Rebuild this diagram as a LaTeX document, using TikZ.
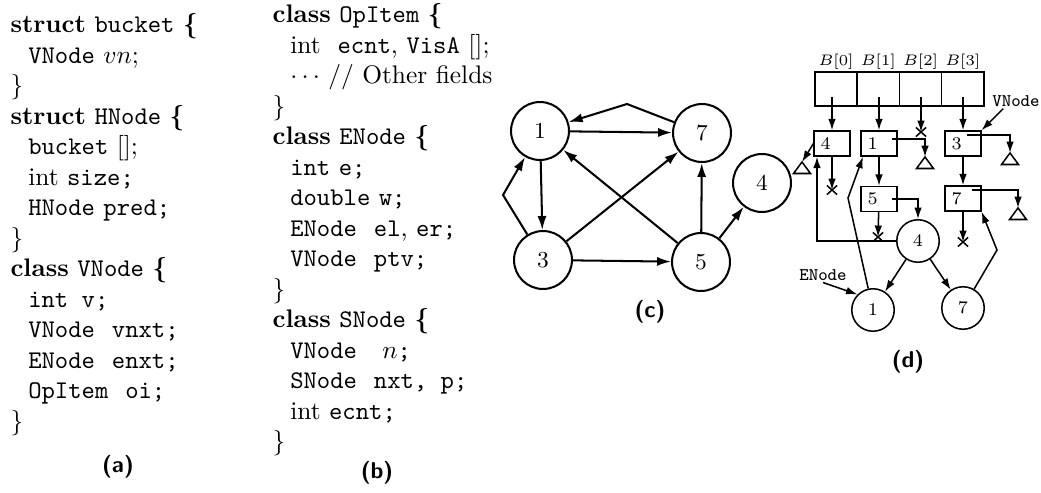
\documentclass[tikz,border=0pt]{standalone}
\usetikzlibrary{arrows.meta,shapes.misc}
\newcommand{\codeind}{\hspace*{0.7em}}

\begin{document}
\begin{tikzpicture}[x=0.3934pt,y=-0.3934pt,
    >={Latex[length=5.5pt,width=3.6pt]},
    code/.style={align=left,inner sep=0pt,anchor=north west},
    caption/.style={font=\small\sffamily\bfseries},
    vert/.style={circle,draw,thick,minimum size=22.8pt,inner sep=0pt,font=\small},
    dvert/.style={circle,draw,minimum size=16.7pt,inner sep=0pt,font=\scriptsize},
    cell/.style={draw,minimum width=16.6pt,minimum height=13.4pt,inner sep=0pt},
    box/.style={draw,text width=9pt,align=left,inner xsep=2.5pt,inner ysep=0pt,minimum height=9.8pt,font=\scriptsize},
    blabel/.style={font=\fontsize{6}{7}\selectfont,inner sep=0.5pt},
    tlabel/.style={font=\scriptsize\ttfamily,inner sep=0.5pt},
    nilx/.style={cross out,draw,inner sep=0pt,minimum width=3.4pt,minimum height=3pt}]
  \useasboundingbox (0,0) rectangle (1041,492);

  % (a)
  \node[code] (codeA) at (10,13) {%
    \textbf{struct} \texttt{bucket} \textbf{\{}\\
    \codeind\texttt{VNode} $vn$;\\
    \}\\
    \textbf{struct} \texttt{HNode} \textbf{\{}\\
    \codeind\texttt{bucket} [];\\
    \codeind int \texttt{size;}\\
    \codeind\texttt{HNode} \texttt{pred;}\\
    \}\\
    \textbf{class} \texttt{VNode} \textbf{\{}\\
    \codeind\texttt{int v;}\\
    \codeind\texttt{VNode}\ \ \texttt{vnxt;}\\
    \codeind\texttt{ENode}\ \ \texttt{enxt;}\\
    \codeind\texttt{OpItem}\ \ \texttt{oi;}\\
    \}};
  \node[caption] (capA) at (118,467) {(a)};

  % (b)
  \node[code] (codeB) at (272,3) {%
    \textbf{class} \texttt{OpItem} \textbf{\{}\\
    \codeind int\ \ \texttt{ecnt}, \texttt{VisA} [];\\
    \codeind$\cdots$ // Other fields\\
    \}\\
    \textbf{class} \texttt{ENode} \textbf{\{}\\
    \codeind\texttt{int} \texttt{e;}\\
    \codeind\texttt{double} \texttt{w;}\\
    \codeind\texttt{ENode}\ \ \texttt{el}, \texttt{er;}\\
    \codeind\texttt{VNode}\ \ \texttt{ptv;}\\
    \}\\
    \textbf{class} \texttt{SNode} \textbf{\{}\\
    \codeind\texttt{VNode}\ \ \ $n$\texttt{;}\\
    \codeind\texttt{SNode}\ \ \texttt{nxt, p;}\\
    \codeind int \texttt{ecnt;}\\
    \}};
  \node[caption] (capB) at (377,473) {(b)};

  % (c)
  \node[vert] (n1) at (540,131) {1};
  \node[vert] (n7) at (702,133) {7};
  \node[vert] (n4) at (762,183) {4};
  \node[vert] (n3) at (543,260) {3};
  \node[vert] (n5) at (701,262) {5};
  \coordinate (k71) at (627,104);
  \coordinate (k31) at (503,195);
  \begin{scope}[thick]
    \draw[->] (n1) -- (n7);
    \draw[->] (n7) -- (k71) -- (n1);
    \draw[->] (n1) -- (n3);
    \draw[->] (n3) -- (k31) -- (n1);
    \draw[->] (n3) -- (n7);
    \draw[->] (n3) -- (n5);
    \draw[->] (n5) -- (n1);
    \draw[->] (n5) -- (n7);
    \draw[->] (n5) -- (n4);
  \end{scope}
  \node[caption] (capC) at (650,312) {(c)};

  % (d)
  \begin{scope}[semithick,>={Latex[length=4.5pt,width=3pt]}]
    \foreach \i in {0,...,3}
      \node[cell,label={[blabel]above:$B[\i]$}] (cell\i) at ({836+42.25*\i},89) {};
    \node[box] (b4) at (832,143.5) {4};
    \node[box] (b1) at (879,143.5) {1};
    \node[box] (b3) at (963,143.5) {3};
    \node[box] (b5) at (879,199) {5};
    \node[box] (b7) at (963,198.5) {7};
    \node[dvert] (e4) at (918,241) {4};
    \node[dvert] (e1) at (873,310) {1};
    \node[dvert] (e7) at (963,308) {7};
    \node[nilx] (x2) at (921,132) {};
    \node[nilx] (x4) at (832,190) {};
    \node[nilx] (x5) at (878,237) {};
    \node[nilx] (x7) at (963,242) {};
    \coordinate (t4) at (802,162);
    \coordinate (t1) at (925,157);
    \coordinate (t3) at (1010,153);
    \coordinate (t7) at (1018,208);
    \foreach \t in {t4,t1,t3,t7}
      \draw (\t) -- ++(-8.5,11.5) -- ++(17,0) -- cycle;

    \draw[->] (b4.north |- cell0.center) ++(0,8) -- (b4);
    \draw[->] (b1.north |- cell1.center) ++(0,8) -- (b1);
    \draw[->] (x2 |- cell2.center) ++(0,8) -- (x2.center);
    \draw[->] (b3.north |- cell3.center) ++(0,8) -- (b3);

    \draw[->] (b4) -- (x4.center);
    \draw[->] (b4.west) -- (t4);
    \draw[->] (b1.center) ++(13,-4.5) -| (t1);
    \draw[->] (b1) -- (b5);
    \draw[->] (b5.center) ++(13,0) -| (e4);
    \draw[->] (b5) -- (x5.center);
    \draw[->] (b3.center) ++(4,-8.5) -| (t3);
    \draw[->] (b3) -- (b7);
    \draw[->] (b7.center) ++(9,-8.5) -| (t7);
    \draw[->] (b7) -- (x7.center);

    \coordinate (r4) at (817,241);
    \draw[->] (e4) -- (r4) -- (r4 |- b4.south);
    \coordinate (k1) at (848,198);
    \draw[->] (e1) -- (k1) -- ([xshift=1pt]b1.south west);
    \draw[->] (e4) -- (e1);
    \draw[->] (e4) -- (e7);
    \coordinate (k7) at (997,250);
    \draw[->] (e7) -- (k7) -- (b7.south east);

    \node[tlabel] (enode) at (823,275) {ENode};
    \draw[->] (enode.south) -- (e1.135);
    \node[tlabel] (vnode) at (1016,101) {VNode};
    \draw[->] ([xshift=-5pt]vnode.south) -- (b3.north east);
  \end{scope}
  \node[caption] (capD) at (908,362) {(d)};
\end{tikzpicture}
\end{document}
